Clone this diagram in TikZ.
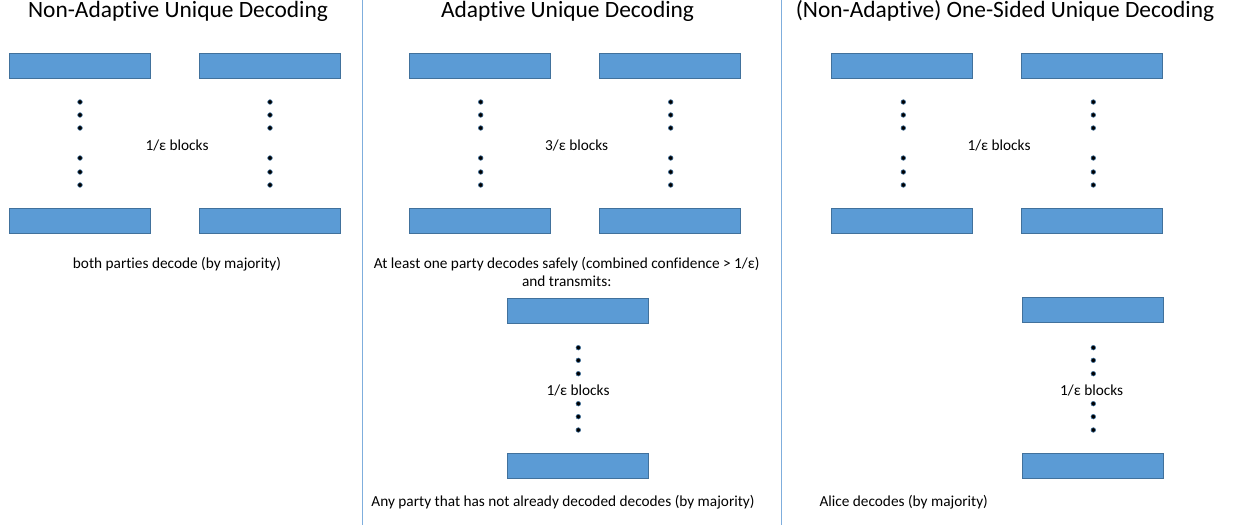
\documentclass[tikz,border=0pt]{standalone}
\usepackage{fontspec}
\setmainfont{Carlito}[Ligatures=NoCommon]
\definecolor{blockfill}{HTML}{5B9BD5}
\definecolor{blockline}{HTML}{41719C}
\definecolor{divline}{HTML}{7FAEDD}
\tikzset{
  blk/.style={draw=blockline, line width=0.8pt, fill=blockfill, minimum width=141pt, minimum height=25pt, inner sep=0pt},
  dotnode/.style={circle, fill=black, draw=blockline, line width=0.6pt, minimum size=4.6pt, inner sep=0pt},
  ttl/.style={font=\fontsize{23.4}{28}\selectfont, inner sep=0pt, anchor=base},
  lbl/.style={font=\fontsize{15.3}{18}\selectfont, inner sep=0pt, align=center, anchor=base},
  divider/.style={draw=divline, line width=0.9pt}
}
\newcommand{\dotcol}[3]{% name prefix, x, list of y
  \foreach \yy [count=\k] in {#3} {\node[dotnode] (#1\k) at (#2,\yy) {};}
}
\begin{document}
\begin{tikzpicture}[x=1pt,y=-1pt]
\useasboundingbox (0,0) rectangle (1233,525);
\coordinate (d1t) at (362.5,0); \coordinate (d1b) at (362.5,525);
\coordinate (d2t) at (781.5,0); \coordinate (d2b) at (781.5,525);
\draw[divider] (d1t) -- (d1b);
\draw[divider] (d2t) -- (d2b);
% Panel 1
\node[ttl] (t1) at (178,17) {Non-Adaptive Unique Decoding};
\node[blk] (a1) at (79.5,65.5) {};
\node[blk] (a2) at (269.5,65.5) {};
\node[blk] (a3) at (79.5,220.5) {};
\node[blk] (a4) at (269.5,220.5) {};
\dotcol{pa}{80}{102,115,128,158,172,185}
\dotcol{pb}{270}{102,115,128,158,172,185}
\node[lbl] (l1) at (177,150) {1/ε blocks};
\node[lbl] (s1) at (177,268) {both parties decode (by majority)};
% Panel 2
\node[ttl] (t2) at (567.5,17) {Adaptive Unique Decoding};
\node[blk] (b1) at (479.5,65.5) {};
\node[blk] (b2) at (670,65.5) {};
\node[blk] (b3) at (479.5,220.5) {};
\node[blk] (b4) at (670,220.5) {};
\dotcol{qa}{480.7}{102,115,128,158,172,185}
\dotcol{qb}{670.7}{102,115,128,158,172,185}
\node[lbl] (l2) at (576.7,150) {3/ε blocks};
\node[lbl] (s2a) at (566.7,268) {At least one party decodes safely (combined confidence > 1/ε)};
\node[lbl] (s2b) at (566.7,286.5) {and transmits:};
\node[blk] (b5) at (578,310.7) {};
\node[blk] (b6) at (578,465.7) {};
\dotcol{qc}{578.3}{347.7,360.3,373.7,403.7,416.7,430}
\node[lbl] (l3) at (578,395) {1/ε blocks};
\node[lbl] (s3) at (563,506) {Any party that has not already decoded decodes (by majority)};
% Panel 3
\node[ttl] (t3) at (1005,17) {(Non-Adaptive) One-Sided Unique Decoding};
\node[blk] (c1) at (902.3,65.5) {};
\node[blk] (c2) at (1092.3,65.5) {};
\node[blk] (c3) at (902.3,220.5) {};
\node[blk] (c4) at (1092.3,220.5) {};
\dotcol{ra}{903.3}{102,115,128,158,172,185}
\dotcol{rb}{1093.3}{102,115,128,158,172,185}
\node[lbl] (l4) at (999,150) {1/ε blocks};
\node[blk] (c5) at (1092.5,310.3) {};
\node[blk] (c6) at (1092.5,465.7) {};
\dotcol{rc}{1093.3}{347.7,360.3,373.7,403.7,416.7,430}
\node[lbl] (l5) at (1091.7,395) {1/ε blocks};
\node[lbl, anchor=base west] (s4) at (819.3,506) {Alice decodes (by majority)};
\end{tikzpicture}
\end{document}
